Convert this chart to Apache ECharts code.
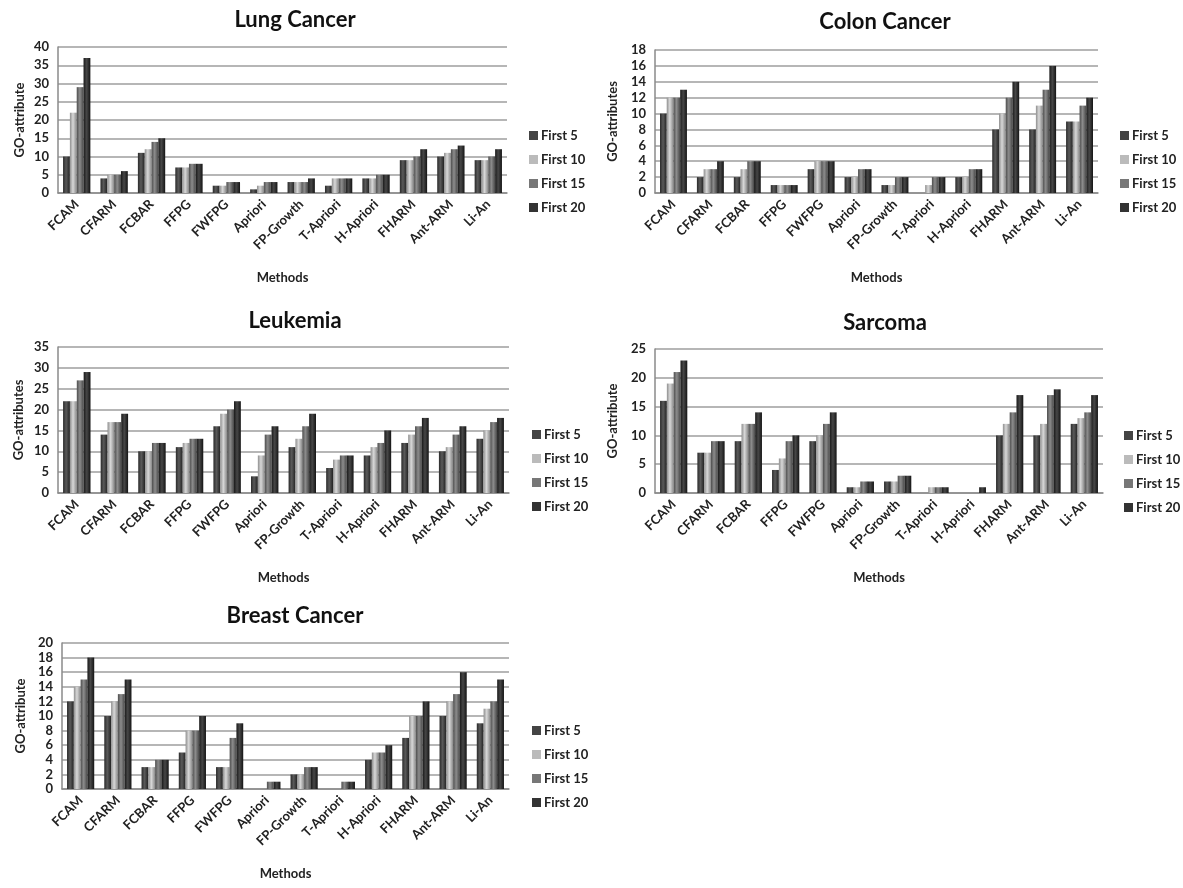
<!DOCTYPE html>
<html>
<head>
<meta charset="utf-8">
<script src="https://cdn.jsdelivr.net/npm/echarts@6/dist/echarts.min.js"></script>
<style>
html,body{margin:0;padding:0;background:#fff;}
#c{width:1183px;height:888px;}
</style>
</head>
<body>
<div id="c"></div>
<script>
const methods = ['FCAM','CFARM','FCBAR','FFPG','FWFPG','Apriori','FP-Growth','T-Apriori','H-Apriori','FHARM','Ant-ARM','Li-An'];
const seriesNames = ['First 5','First 10','First 15','First 20'];

const lung5  = [10, 4, 11, 7, 2, 1, 3, 2, 4, 9, 10, 9];
const lung10 = [22, 5, 12, 7, 2, 2, 3, 4, 4, 9, 11, 9];
const lung15 = [29, 5, 14, 8, 3, 3, 3, 4, 5, 10, 12, 10];
const lung20 = [37, 6, 15, 8, 3, 3, 4, 4, 5, 12, 13, 12];

const colon5  = [10, 2, 2, 1, 3, 2, 1, 0, 2, 8, 8, 9];
const colon10 = [12, 3, 3, 1, 4, 2, 1, 1, 2, 10, 11, 9];
const colon15 = [12, 3, 4, 1, 4, 3, 2, 2, 3, 12, 13, 11];
const colon20 = [13, 4, 4, 1, 4, 3, 2, 2, 3, 14, 16, 12];

const leuk5  = [22, 14, 10, 11, 16, 4, 11, 6, 9, 12, 10, 13];
const leuk10 = [22, 17, 10, 12, 19, 9, 13, 8, 11, 14, 11, 15];
const leuk15 = [27, 17, 12, 13, 20, 14, 16, 9, 12, 16, 14, 17];
const leuk20 = [29, 19, 12, 13, 22, 16, 19, 9, 15, 18, 16, 18];

const sarc5  = [16, 7, 9, 4, 9, 1, 2, 0, 0, 10, 10, 12];
const sarc10 = [19, 7, 12, 6, 10, 1, 2, 1, 0, 12, 12, 13];
const sarc15 = [21, 9, 12, 9, 12, 2, 3, 1, 0, 14, 17, 14];
const sarc20 = [23, 9, 14, 10, 14, 2, 3, 1, 1, 17, 18, 17];

const breast5  = [12, 10, 3, 5, 3, 0, 2, 0, 4, 7, 10, 9];
const breast10 = [14, 12, 3, 8, 3, 0, 2, 0, 5, 10, 12, 11];
const breast15 = [15, 13, 4, 8, 7, 1, 3, 1, 5, 10, 13, 12];
const breast20 = [18, 15, 4, 10, 9, 1, 3, 1, 6, 12, 16, 15];

const charts = [
  {title:'Lung Cancer', yName:'GO-attribute', data:[lung5,lung10,lung15,lung20], max:40, interval:5,
   grid:{left:58, top:47, width:449, height:146}, titlePos:[290,4], legendPos:[524,124], yGap:32},
  {title:'Colon Cancer', yName:'GO-attributes', data:[colon5,colon10,colon15,colon20], max:18, interval:2,
   grid:{left:655, top:50, width:443, height:143}, titlePos:[880,6], legendPos:[1115,124], yGap:36},
  {title:'Leukemia', yName:'GO-attributes', data:[leuk5,leuk10,leuk15,leuk20], max:35, interval:5,
   grid:{left:58, top:347, width:451, height:146}, titlePos:[290,305], legendPos:[527,423], yGap:33},
  {title:'Sarcoma', yName:'GO-attribute', data:[sarc5,sarc10,sarc15,sarc20], max:25, interval:5,
   grid:{left:655, top:349, width:448, height:144}, titlePos:[880,307], legendPos:[1119,424], yGap:36},
  {title:'Breast Cancer', yName:'GO-attribute', data:[breast5,breast10,breast15,breast20], max:20, interval:2,
   grid:{left:62, top:643, width:447, height:146}, titlePos:[290,600], legendPos:[527,719], yGap:35}
];

function grad(c1, c2, c3) {
  return new echarts.graphic.LinearGradient(0, 0, 1, 0, [
    {offset:0, color:c1}, {offset:0.45, color:c2}, {offset:1, color:c3}
  ]);
}
const barColors = [
  grad('#2a2a2a', '#5a5a5a', '#222'),
  grad('#8e8e8e', '#d8d8d8', '#888'),
  grad('#4e4e4e', '#8c8c8c', '#484848'),
  grad('#1a1a1a', '#474747', '#141414')
];
const legendColors = ['#444', '#bbb', '#777', '#333'];

const font = 'Lato, "Open Sans", sans-serif';
const option = {
  animation:false,
  backgroundColor:'#fff',
  title:[], legend:[], grid:[], xAxis:[], yAxis:[], series:[]
};

charts.forEach((ch, i) => {
  option.title.push({
    text: ch.title, left: ch.titlePos[0], top: ch.titlePos[1], textAlign:'center',
    textStyle:{fontFamily:font, fontWeight:'bold', fontSize:22, color:'#111'}
  });
  option.grid.push(Object.assign({containLabel:false}, ch.grid));
  option.xAxis.push({
    type:'category', gridIndex:i, data:methods,
    name:'Methods', nameLocation:'middle', nameGap:78,
    nameTextStyle:{fontFamily:font, fontWeight:'bold', fontSize:13, color:'#222'},
    axisLine:{show:true, lineStyle:{color:'#8a8a8a', width:1.5}},
    axisTick:{show:false},
    axisLabel:{rotate:45, interval:0, margin:9, fontFamily:font, fontWeight:'bold', fontSize:13, color:'#222'}
  });
  option.yAxis.push({
    type:'value', gridIndex:i, min:0, max:ch.max, interval:ch.interval,
    name:ch.yName, nameLocation:'middle', nameGap:ch.yGap, nameRotate:90,
    nameTextStyle:{fontFamily:font, fontWeight:'bold', fontSize:13, color:'#222'},
    axisLine:{show:true, lineStyle:{color:'#8a8a8a', width:1.5}},
    axisTick:{show:false},
    axisLabel:{margin:9, fontFamily:font, fontWeight:'bold', fontSize:13, color:'#222'},
    splitLine:{show:true, lineStyle:{color:'#9e9e9e', width:1.5}}
  });
  const legendData = seriesNames.map((n, k) => ({name:n, itemStyle:{color:legendColors[k]}}));
  option.legend.push({
    data: legendData, orient:'vertical', left: ch.legendPos[0], top: ch.legendPos[1],
    icon:'rect', itemWidth:9, itemHeight:9, itemGap:11, selectedMode:false,
    textStyle:{fontFamily:font, fontWeight:'bold', fontSize:13, color:'#222', padding:[0,0,0,-2]}
  });
  ch.data.forEach((arr, k) => {
    option.series.push({
      type:'bar', name:seriesNames[k], xAxisIndex:i, yAxisIndex:i, data:arr,
      barGap:'0%', barCategoryGap:'27%',
      itemStyle:{color:barColors[k], borderWidth:0}
    });
  });
});

const chart = echarts.init(document.getElementById('c'), null, {renderer:'canvas'});
chart.setOption(option);
</script>
</body>
</html>
